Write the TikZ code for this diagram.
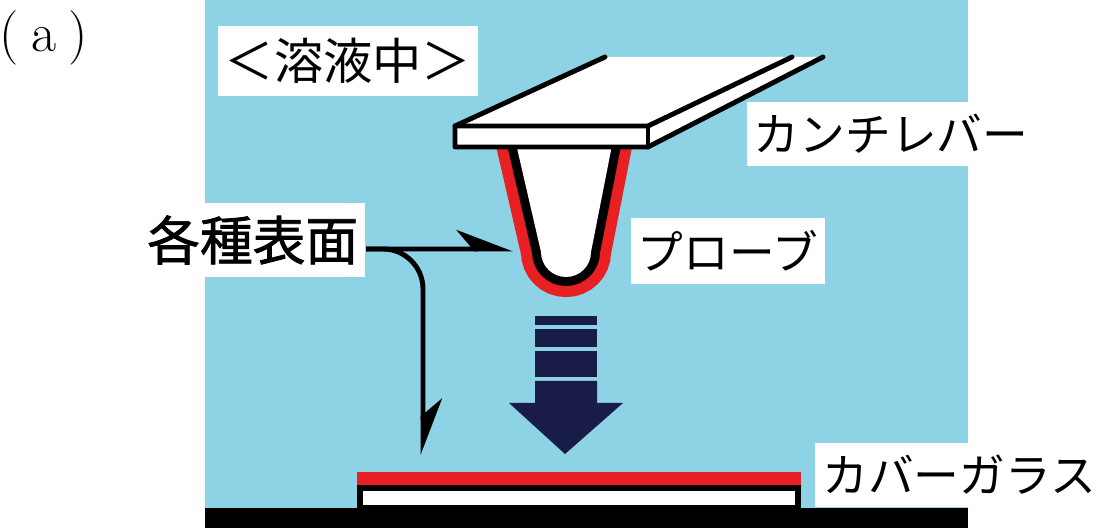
\documentclass[tikz,border=0pt]{standalone}
\usepackage{fontspec}
\usepackage{tikz}
\usetikzlibrary{arrows.meta}
\newfontfamily\jpfont{Noto Sans CJK JP}
\newfontfamily\jpheavy[FakeBold=1.4]{Noto Sans CJK JP}
\definecolor{liquid}{RGB}{142,210,230}
\definecolor{navy}{RGB}{24,28,70}
\definecolor{coat}{RGB}{232,32,36}

\begin{document}
\begin{tikzpicture}[x=0.01cm, y=-0.01cm,
  lbl/.style={fill=white, inner xsep=2pt, inner ysep=3.5pt, font=\jpfont\fontsize{13}{13}\selectfont},
  outline/.style={line width=1.4pt, line cap=round, line join=round},
  pointer/.style={line width=1.4pt, -{Stealth[harpoon, length=5mm, width=3.8mm, inset=1.6mm]}}
]
\fill[white] (0,0) rectangle (1106,528);
\useasboundingbox (0,0) rectangle (1106,528);

% liquid cell and stage
\fill[liquid] (205,0) rectangle (968,510);
\fill[black] (205,508) rectangle (968,528);

% cover glass with its coating
\fill[coat] (357,472) rectangle (801,485);
\fill[black] (357,485) rectangle (801,510);
\fill[white] (363,491) rectangle (795,505);

% probe: red coat, black wall, white body
\draw[coat, line width=11.4pt] (514,135) -- (541,252) arc[start angle=180, end angle=0, radius=25] -- (614,135);
\draw[black, line width=5.1pt] (514,135) -- (541,252) arc[start angle=180, end angle=0, radius=25] -- (614,135);
\fill[white] (514,135) -- (541,252) arc[start angle=180, end angle=0, radius=25] -- (614,135) -- cycle;

% cantilever
\fill[white] (455,126) -- (605,57) -- (823,57) -- (648,147) -- (455,147) -- cycle;
\draw[outline] (605,57) -- (455,126) -- (455,147) -- (648,147) -- (823,57);
\draw[outline] (455,126) -- (648,126) -- (792,57);
\draw[outline] (648,126) -- (648,147);

% approach arrow
\foreach \ya/\yb in {316/325, 329/347, 351/377}
  \fill[navy] (535,\ya) rectangle (597,\yb);
\fill[navy] (535,381) -- (597,381) -- (597,403) -- (623,403) -- (565,454)
  -- (509,403) -- (535,403) -- cycle;

% labels
\node (tag) at (44,38) {\fontsize{15.5}{15.5}\selectfont(\kern3.5pt a\kern3.5pt)};
\node[lbl, minimum width=2.6cm, minimum height=0.62cm] (medium) at (348,61) {\fontsize{14}{14}\selectfont ＜溶液中＞};
\node[lbl] (lever) at (891,134) {カンチレバー};
\node[lbl] (probe) at (728,251) {プローブ};
\node[lbl, anchor=east, font=\jpheavy\fontsize{15}{15}\selectfont] (surf) at (366,240) {各種表面};
\node[lbl] (glass) at (959,475) {カバーガラス};

\coordinate (tipmark) at (513,249);
\coordinate (glassmark) at (423,455);
\draw[pointer] ([yshift=-0.09cm]surf.east) -- (tipmark);
\draw[pointer, rounded corners=0.4cm] ([yshift=-0.09cm]surf.east) -| (glassmark);
\end{tikzpicture}
\end{document}
